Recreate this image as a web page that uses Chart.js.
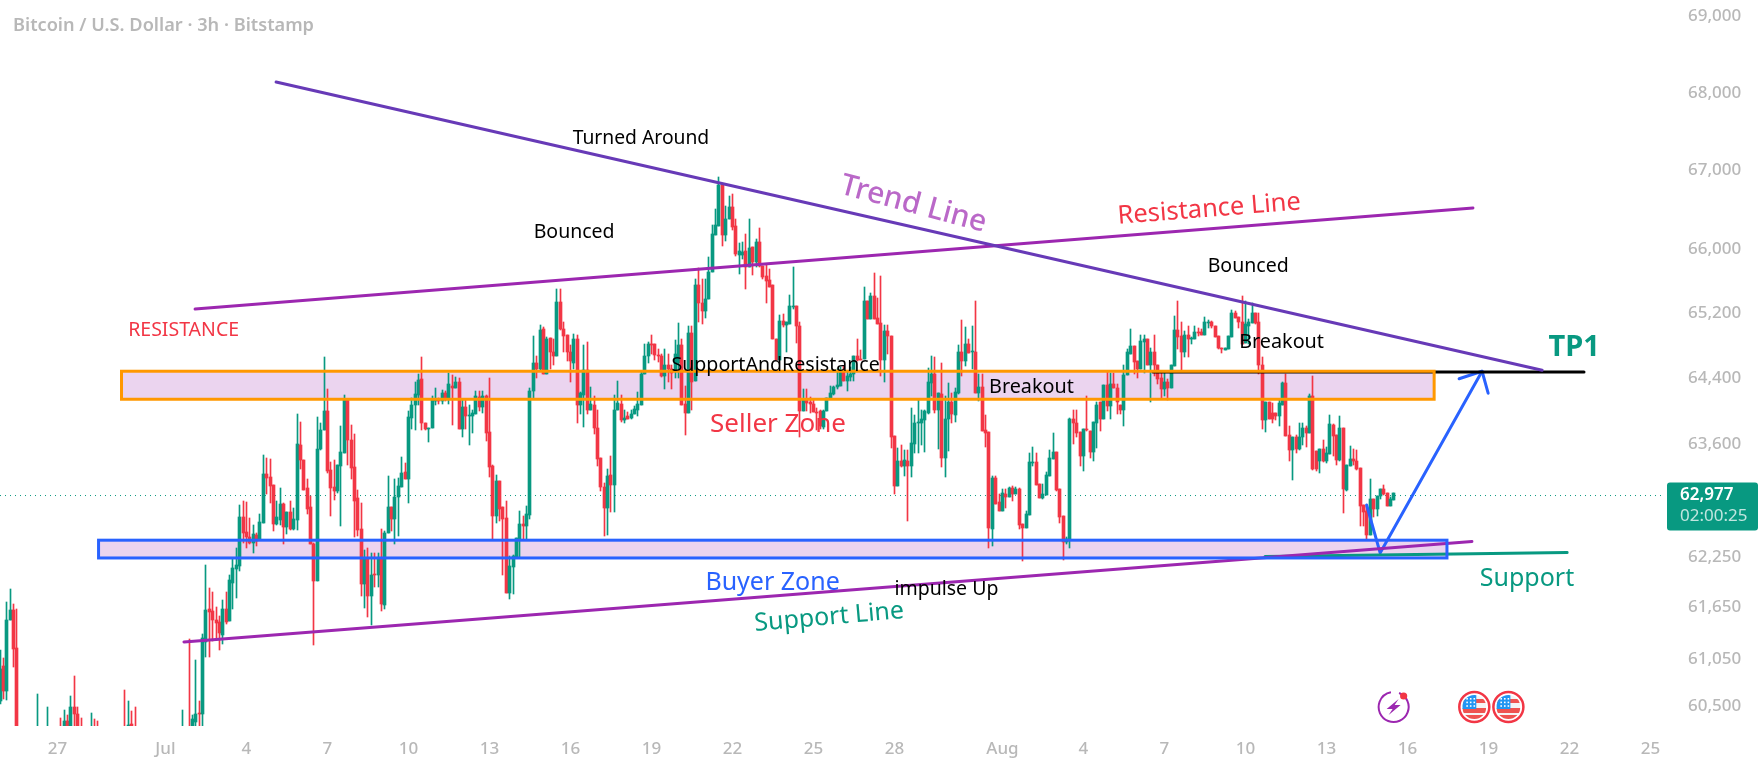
<!DOCTYPE html>
<html>
<head>
<meta charset="utf-8">
<title>Bitcoin / U.S. Dollar 3h</title>
<script src="https://cdn.jsdelivr.net/npm/chart.js@4/dist/chart.umd.min.js"></script>
<style>
  html, body { margin: 0; padding: 0; background: #fff; overflow: hidden; }
  canvas { display: block; }
</style>
</head>
<body>
<canvas id="btcChart" width="1763" height="768"></canvas>
<script>
// 3h candles
const opens = [
60530,60940,60650,61470,61590,61150,60100,59950,60000,59950,
59900,60050,60150,60000,60060,60150,60050,60120,60220,60120,
60310,60150,60470,60390,60150,60050,60100,60060,60240,60100,
60050,60000,60060,60000,59950,60000,60040,60150,60050,60270,
60100,60000,59950,60000,59960,59900,59950,60000,60060,60000,
59950,60020,59980,60000,60060,60150,60200,60000,60290,60400,
60380,61220,61600,61580,61480,61450,61300,61600,61460,61910,
62070,62110,62690,62510,62460,62380,62480,62420,62620,63210,
63170,63080,62610,62660,62850,62570,62750,62550,62660,63560,
63380,63040,62810,62370,61930,63510,63740,63970,63260,63050,
63010,63310,63460,64120,63620,63290,62920,62550,61900,62200,
61760,62010,62000,62200,61650,62500,62810,62670,62930,63050,
63230,63150,63890,64050,64170,64360,63830,63750,63760,64090,
64100,64090,64190,64120,64280,64250,64320,63750,64020,63910,
63910,63940,64140,64020,64150,63720,63310,62710,63120,62810,
62680,61790,62100,62200,62430,62610,62590,62720,64210,64560,
64490,64980,64420,64870,64700,64650,65310,64980,64910,64690,
64560,64850,64040,64170,64470,63990,64050,63760,63400,63050,
62800,63200,63080,63990,64060,63860,63910,63890,63930,63990,
64050,64430,64640,64790,64790,64660,64650,64400,64540,64490,
64460,64560,64780,64060,63950,64930,64340,65530,65300,65200,
65350,65690,66150,66270,66780,66150,66350,66500,66260,65900,
65900,65950,65750,66000,65810,66070,65760,65640,65590,65520,
64860,64600,65080,65030,65040,65250,65260,65010,63970,64100,
64080,64060,63960,63970,63780,63970,64120,64180,64260,64280,
64450,64340,64390,64430,64650,64600,64610,65330,65100,65390,
65110,65050,64600,64950,64890,63670,63060,63360,63310,63360,
63300,63570,63820,63820,63860,63950,64310,64420,63980,64180,
63400,63870,64080,63920,64190,64690,64580,64790,64690,64700,
64190,64270,63740,63720,62550,63160,62870,62770,62970,62930,
63040,62970,63030,62610,62560,62720,63340,63350,63090,62920,
62960,63190,63390,63470,63030,62700,62400,62420,63870,63830,
63720,63430,63750,63730,63470,63830,64080,63880,64290,64030,
64300,64250,64050,63990,64410,64670,64770,64580,64480,64820,
64860,64530,64700,64540,64370,64240,64320,64250,64520,64960,
64890,64690,64910,64860,64850,64940,64940,64900,65050,65060,
65010,64890,64740,64720,64730,64880,65180,65130,65060,64800,
65020,65050,65180,65060,64540,63860,64080,63950,63950,63910,
64050,64310,63680,63500,63660,63510,63660,63770,63700,64160,
63490,63370,63510,63360,63450,63800,63680,63380,63770,63020,
63300,63390,63370,63280,62840,62760,62480,62910,62790,62940,
63030,62980,62830,62900];
const highs = [
61130,61030,61690,61840,61660,61610,60150,60050,60100,60020,
60100,60610,60200,60100,60460,60200,60180,60230,60340,60430,
60370,60590,60820,60460,60340,60150,60180,60400,60330,60310,
60150,60100,60120,60090,60050,60100,60150,60660,60540,60420,
60460,60080,60050,60100,60050,60000,60040,60120,60130,60100,
60060,60110,60080,60140,60430,60240,61250,60370,61010,60540,
61310,62120,61850,61810,61630,61520,61710,61810,62010,62190,
62320,62840,62890,62870,62680,62600,62500,62730,63440,63400,
63390,63080,62890,63040,62860,62750,62890,62800,63930,63840,
63380,63150,62940,62380,63900,63830,64630,64240,63350,63380,
63320,63790,64170,64120,63800,63690,63020,62860,62300,62320,
62260,62260,62260,62550,62530,63180,62810,63150,63160,63410,
63340,63970,64130,64330,64430,64630,63830,63770,64160,64250,
64130,64230,64210,64440,64410,64390,64370,64110,64110,64050,
63980,64210,64210,64210,64170,64370,63320,63200,63120,62810,
62880,62230,62240,62440,62770,62700,62820,64250,64890,64650,
65030,65000,64880,64870,64850,65480,65480,65070,64910,64780,
64920,64910,64200,64780,64820,64260,64160,63990,63400,63100,
63270,63420,64170,64340,64170,63990,63960,63990,64030,64200,
64450,64790,64820,64910,64790,64730,64670,64730,64670,64540,
64840,65050,64860,64280,65010,65010,65600,65740,65600,65600,
65870,66280,66480,66890,66790,66520,66640,66670,66350,66050,
66060,66160,66350,66000,66100,66240,65760,65770,65730,65520,
64860,65150,65170,65060,65400,65750,65260,65060,64240,64240,
64140,64120,64010,63990,63980,64130,64280,64280,64490,64510,
64520,64450,64510,64650,64860,64720,65500,65330,65430,65670,
65360,65640,65030,65030,64890,63670,63520,63560,63500,63500,
64010,63920,64110,63990,63990,64500,64640,64630,64190,64560,
64160,64310,64190,64250,64780,65090,65000,64850,65020,65320,
64420,64420,63920,63720,63190,63190,62970,63030,63030,63050,
63060,63050,63040,62610,62770,63460,63530,63460,63090,63090,
63230,63500,63700,63470,63030,62700,62450,63890,63990,63990,
63720,63750,64160,63730,63840,64080,64080,64290,64460,64440,
64440,64300,64050,64530,64730,64980,64770,64580,64910,64910,
64860,64750,64900,64540,64440,64440,64360,64530,65140,65320,
65060,64950,65020,64880,65010,64990,64980,65130,65090,65080,
65010,64890,64750,64750,64890,65220,65200,65130,65390,65320,
65100,65300,65180,65180,64630,64080,64080,64070,63950,64120,
64320,64430,63790,63660,63680,63820,63820,63790,64180,64400,
63490,63510,63620,63540,63920,63810,63680,63910,63770,63320,
63550,63510,63500,63280,62840,62830,63150,62910,62950,63030,
63080,62980,62930,62980];
const lows = [
60500,60560,60550,61470,60930,60000,59900,59850,59900,59800,
59850,60000,59950,59900,60000,60000,60000,60050,60100,60080,
60100,60100,60250,60100,60020,59950,60000,60000,60080,60000,
59950,59900,59950,59900,59850,59900,59980,60000,60000,60050,
59950,59880,59850,59900,59850,59800,59850,59900,59950,59900,
59860,59920,59880,59920,60000,60050,59900,59950,60240,60230,
60240,61040,61040,61230,61240,61130,61200,61430,61460,61600,
61730,62050,62380,62330,62370,62260,62350,62420,62620,62970,
62860,62530,62600,62600,62370,62490,62540,62540,62540,63270,
63020,62730,62370,61180,61930,63500,63740,63220,62710,62900,
62980,62580,63460,63320,63150,62450,62470,61760,61620,61510,
61420,61860,61860,61580,61610,62500,62530,62370,62470,63050,
63150,62860,63750,63740,64050,63740,63740,63590,63760,64050,
64060,64060,64090,64060,63800,64250,63750,63650,63750,63560,
63710,63930,63970,63950,63610,63170,62420,62620,62650,62010,
61790,61720,61780,62200,62200,62420,62420,62670,64130,64370,
64470,64420,64420,64480,64530,64650,64970,64690,64580,64320,
64480,63820,63940,63780,63940,63990,63690,63310,63000,62470,
62480,62750,62750,63980,63840,63830,63880,63880,63930,63910,
64050,64430,64560,64670,64590,64570,64390,64240,64320,64240,
64370,64370,64040,63680,63950,63990,64340,65070,65040,65110,
65350,65690,66150,66270,66020,66080,66350,66220,65890,65660,
65850,65480,65750,65650,65750,65750,65600,65300,65500,64850,
64600,64600,65000,64690,65040,65230,64800,63660,63970,63970,
63950,63960,63740,63750,63750,63970,64120,64170,64240,64280,
64340,64220,64340,64340,64580,64590,64610,65100,65100,65100,
65040,64400,64330,64670,63520,62970,63060,63290,63190,62640,
63170,63460,63460,63560,63480,63930,64160,63950,63510,63290,
63170,63490,63820,63840,64180,64400,64520,64680,64480,64190,
64090,63730,63530,62330,62350,62850,62770,62770,62800,62930,
62880,62970,62550,62170,62560,62720,63310,63080,62920,62910,
62960,63180,63390,63010,62620,62180,62370,62330,63570,63660,
63300,63240,63730,63400,63360,63520,63730,63880,63970,63880,
64250,63940,63930,63790,64410,64670,64420,64370,64480,64440,
64530,64080,64400,64300,64130,64150,64100,64250,64520,64730,
64460,64630,64630,64790,64850,64890,64900,64900,64990,64990,
64880,64730,64680,64720,64730,64880,65110,64990,64790,64800,
64790,65050,65040,64430,63750,63720,63880,63820,63860,63790,
64050,63670,63360,63140,63460,63500,63560,63540,63700,63260,
63250,63220,63350,63340,63450,63430,63320,63370,62740,63010,
63300,63320,63260,62590,62590,62420,62480,62690,62710,62910,
62960,62830,62830,62900];
const closes = [
60910,60650,61470,61590,61140,60100,59950,60000,59950,59900,
60050,60150,60000,60060,60150,60050,60120,60220,60120,60310,
60150,60470,60380,60150,60050,60100,60060,60240,60100,60050,
60000,60060,60000,59950,60000,60040,60100,60050,60260,60100,
60000,59950,60000,59960,59900,59950,60000,60060,60000,59950,
60020,59980,60000,60060,60150,60100,60000,60330,60390,60380,
61260,61590,61570,61470,61440,61320,61600,61450,61940,62090,
62120,62690,62500,62450,62380,62490,62410,62630,63210,63160,
63070,62610,62690,62850,62570,62750,62550,62670,63570,63380,
63020,62790,62370,61930,63510,63740,63970,63250,63040,63010,
63320,63480,64120,63620,63280,62880,62540,61900,62200,61760,
62010,62000,62200,61660,62500,62810,62670,62930,63060,63220,
63150,63900,64050,64180,64350,63830,63750,63770,64100,64100,
64090,64190,64120,64300,64250,64320,63750,64020,63910,63920,
63950,64150,64020,64150,63710,63290,62710,63120,62790,62670,
61790,62110,62230,62440,62610,62590,62730,64220,64560,64490,
64960,64420,64860,64690,64650,65310,64980,64890,64690,64580,
64850,64040,64190,64470,63990,64060,63760,63390,63050,62800,
63180,63080,63990,64070,63860,63890,63880,63930,64000,64060,
64430,64650,64790,64780,64660,64640,64400,64540,64490,64440,
64670,64780,64040,63950,64930,64330,65530,65300,65200,65350,
65690,66160,66280,66780,66150,66350,66500,66250,65910,65950,
65940,65750,65990,65810,66060,65760,65630,65580,65500,64850,
64600,65080,65030,65060,65260,65260,65020,63970,64100,64070,
64060,63960,63950,63790,63970,64130,64190,64270,64290,64450,
64340,64400,64430,64650,64590,64590,65330,65100,65390,65100,
65040,64600,64950,64890,63660,63060,63360,63310,63380,63300,
63580,63820,63840,63870,63970,64320,64420,63980,64190,63400,
63880,64080,63930,64200,64690,64580,64790,64680,64700,64190,
64270,63730,63710,62560,63160,62850,62770,62980,62930,63040,
62970,63030,62600,62560,62730,63350,63350,63080,62920,62970,
63200,63400,63470,63020,62690,62400,62430,63870,63820,63700,
63430,63750,63740,63470,63840,64050,63880,64290,64030,64300,
64250,64080,63990,64410,64700,64770,64570,64480,64830,64860,
64530,64700,64530,64360,64240,64320,64250,64530,64960,64880,
64690,64910,64850,64860,64940,64930,64910,65060,65060,65010,
64880,64740,64730,64750,64890,65180,65120,65060,64790,65040,
65060,65180,65050,64530,63860,64080,63880,63880,63910,64070,
64310,63670,63500,63660,63510,63660,63770,63700,64160,63270,
63270,63510,63360,63460,63810,63670,63380,63770,63030,63320,
63390,63360,63270,62830,62750,62480,62910,62790,62950,63030,
62970,62830,62910,62977];

// axis labels
const priceTicks = [69000, 68000, 67000, 66000, 65200, 64400, 63600, 62250, 61650, 61050, 60500];
const dayTicks = [17, 49, 73, 97, 121, 145, 169, 193, 217, 241, 265, 297, 321, 345, 369, 393, 417, 441, 465, 489];
const dayLabels = ['27', 'Jul', '4', '7', '10', '13', '16', '19', '22', '25', '28', 'Aug', '4', '7', '10', '13', '16', '19', '22', '25'];
const lastPrice = 62977;
const lastPriceLevel = 62950; // where the dotted line sits on this scale
const countdown = '02:00:25';

const GREEN = '#089981';
const RED = '#f23645';
const BLUE = '#2962ff';
const ORANGE = '#ff9800';
const FONT = '"Noto Sans", sans-serif';

// drawn lines, in candle number / price
const trendLine = [{x: 81.8, y: 68108}, {x: 456.9, y: 64470}];
const resistanceLine = [{x: 57.8, y: 65226}, {x: 436.4, y: 66494}];
const supportLine = [{x: 54.5, y: 61219}, {x: 436.1, y: 62402}];
const tpLine = [{x: 341.6, y: 64450}, {x: 469.3, y: 64450}];
const greenSupport = [{x: 374.8, y: 62222}, {x: 464.3, y: 62270}];
const arrowPath = [{x: 404.9, y: 62837}, {x: 408.9, y: 62266}, {x: 439.1, y: 64458}];
const arrowHead = [{x: 432.3, y: 64366}, {x: 439.1, y: 64458}, {x: 440.9, y: 64189}];
const priceLine = [{x: 0, y: lastPriceLevel}, {x: 493.3, y: lastPriceLevel}];

const zones = [
  {left: 36, right: 424.9, top: 64458, bottom: 64115, color: ORANGE},
  {left: 29.2, right: 428.7, top: 62417, bottom: 62206, color: BLUE}
];

const notes = [
  {text: 'Turned Around', x: 189.9, y: 67414, size: 19.3, color: '#000'},
  {text: 'Bounced', x: 170.1, y: 66217, size: 19.5, color: '#000'},
  {text: 'Bounced', x: 369.8, y: 65789, size: 19.5, color: '#000'},
  {text: 'RESISTANCE', x: 54.4, y: 64992, size: 19.5, color: RED},
  {text: 'SupportAndResistance', x: 229.8, y: 64560, size: 19.6, color: '#000'},
  {text: 'Seller Zone', x: 230.5, y: 63839, size: 26, color: RED},
  {text: 'Breakout', x: 305.6, y: 64290, size: 19.8, color: '#000'},
  {text: 'Breakout', x: 379.7, y: 64843, size: 19.8, color: '#000'},
  {text: 'Buyer Zone', x: 228.9, y: 61946, size: 25, color: BLUE},
  {text: 'impulse Up', x: 280.4, y: 61863, size: 19.5, color: '#000'},
  {text: 'Support', x: 452.4, y: 61994, size: 25, color: GREEN},
  {text: 'TP1', x: 466.4, y: 64781, size: 29, color: GREEN, weight: 'bold'},
  {text: 'Trend Line', x: 270.8, y: 66570, size: 30, color: '#ba68c8', angle: 15, weight: '500'},
  {text: 'Resistance Line', x: 358.2, y: 66507, size: 25.5, color: RED, angle: -4.5},
  {text: 'Support Line', x: 245.6, y: 61535, size: 25, color: GREEN, angle: -5}
];

const candleColors = opens.map((o, i) => (closes[i] >= o ? GREEN : RED));
const wicks = lows.map((l, i) => ({x: i, y: [l, highs[i]]}));
const bodies = opens.map((o, i) => ({x: i, y: [Math.min(o, closes[i]), Math.max(o, closes[i])]}));

function lineSet(points, color, width, order) {
  return {type: 'line', data: points, borderColor: color, borderWidth: width, pointRadius: 0,
    tension: 0, order: order === undefined ? 0 : order, borderCapStyle: 'round', borderJoinStyle: 'round'};
}

function drawFlag(ctx, cx, cy) {
  ctx.save();
  ctx.strokeStyle = RED;
  ctx.lineWidth = 2.5;
  ctx.fillStyle = '#fff';
  ctx.beginPath();
  ctx.arc(cx, cy, 15, 0, Math.PI * 2);
  ctx.fill();
  ctx.stroke();
  ctx.beginPath();
  ctx.arc(cx, cy, 12, 0, Math.PI * 2);
  ctx.clip();
  ctx.fillStyle = '#f4f4f4';
  ctx.fillRect(cx - 12, cy - 12, 24, 24);
  ctx.fillStyle = '#ef5350';
  ctx.fillRect(cx - 12, cy - 8, 24, 4);
  ctx.fillRect(cx - 12, cy + 1, 24, 5);
  ctx.fillRect(cx - 12, cy + 8, 24, 4);
  ctx.fillStyle = '#2196f3';
  ctx.fillRect(cx - 12, cy - 12, 14, 14);
  ctx.fillStyle = '#fff';
  for (let r = 0; r < 3; r++) {
    for (let c = 0; c < 3; c++) {
      ctx.fillRect(cx - 8 + c * 3.6, cy - 9 + r * 3.6, 1.6, 1.6);
    }
  }
  ctx.restore();
}

function drawBolt(ctx, cx, cy) {
  ctx.save();
  ctx.strokeStyle = '#9c27b0';
  ctx.lineWidth = 2;
  ctx.beginPath();
  ctx.arc(cx, cy, 15, -1.2, Math.PI * 2 - 1.75);
  ctx.stroke();
  ctx.fillStyle = '#9c27b0';
  ctx.beginPath();
  ctx.moveTo(cx + 5, cy - 8);
  ctx.lineTo(cx - 7, cy + 2);
  ctx.lineTo(cx - 1, cy + 2);
  ctx.lineTo(cx - 5, cy + 8);
  ctx.lineTo(cx + 7, cy - 2);
  ctx.lineTo(cx + 1, cy - 2);
  ctx.closePath();
  ctx.fill();
  ctx.fillStyle = RED;
  ctx.beginPath();
  ctx.arc(cx + 10, cy - 11, 3.6, 0, Math.PI * 2);
  ctx.fill();
  ctx.restore();
}

const drawings = {
  id: 'drawings',
  beforeDatasetsDraw(chart) {
    const {ctx, scales} = chart;
    // snap the candles to whole pixels so they stay sharp
    chart.getSortedVisibleDatasetMetas().forEach(meta => {
      if (meta.type !== 'bar') return;
      meta.data.forEach(el => {
        el.x = Math.floor(el.x) + 0.5;
        el.y = Math.round(el.y);
        el.base = Math.round(el.base);
      });
    });
    ctx.save();
    ctx.fillStyle = 'rgba(156, 39, 176, 0.2)';
    zones.forEach(z => {
      const x1 = scales.x.getPixelForValue(z.left);
      const x2 = scales.x.getPixelForValue(z.right);
      const y1 = scales.y.getPixelForValue(z.top);
      const y2 = scales.y.getPixelForValue(z.bottom);
      ctx.fillRect(x1, y1, x2 - x1, y2 - y1);
    });
    ctx.restore();
  },
  afterDatasetsDraw(chart) {
    const {ctx, scales} = chart;
    ctx.save();
    ctx.lineWidth = 3;
    zones.forEach(z => {
      const x1 = scales.x.getPixelForValue(z.left);
      const x2 = scales.x.getPixelForValue(z.right);
      const y1 = scales.y.getPixelForValue(z.top);
      const y2 = scales.y.getPixelForValue(z.bottom);
      ctx.strokeStyle = z.color;
      ctx.strokeRect(x1, y1, x2 - x1, y2 - y1);
    });
    ctx.restore();

    // text drawn on the chart
    ctx.save();
    ctx.textAlign = 'center';
    ctx.textBaseline = 'middle';
    notes.forEach(n => {
      ctx.save();
      ctx.translate(scales.x.getPixelForValue(n.x), scales.y.getPixelForValue(n.y));
      ctx.rotate((n.angle || 0) * Math.PI / 180);
      ctx.font = (n.weight || 'normal') + ' ' + n.size + 'px ' + FONT;
      ctx.fillStyle = n.color;
      ctx.fillText(n.text, 0, 2.5);
      ctx.restore();
    });
    ctx.restore();

    // header
    ctx.save();
    ctx.textBaseline = 'middle';
    ctx.font = '600 18.2px ' + FONT;
    ctx.fillStyle = '#b8b8b8';
    ctx.fillText('Bitcoin / U.S. Dollar · 3h · Bitstamp', 13, 25.5);
    ctx.restore();

    // last price tag
    const tagY = scales.y.getPixelForValue(lastPriceLevel);
    ctx.save();
    ctx.fillStyle = GREEN;
    ctx.beginPath();
    ctx.roundRect(1667, tagY - 13, 91, 48, 3);
    ctx.fill();
    ctx.textBaseline = 'middle';
    ctx.font = '600 17px ' + FONT;
    ctx.fillStyle = '#fff';
    ctx.fillText(lastPrice.toLocaleString('en-US'), 1680, tagY);
    ctx.font = '17px ' + FONT;
    ctx.fillStyle = 'rgba(255, 255, 255, 0.75)';
    ctx.fillText(countdown, 1680, tagY + 21);
    ctx.restore();

    drawBolt(ctx, scales.x.getPixelForValue(412.9), 707);
    drawFlag(ctx, scales.x.getPixelForValue(436.8), 707);
    drawFlag(ctx, scales.x.getPixelForValue(446.9), 707);
  }
};

new Chart(document.getElementById('btcChart').getContext('2d'), {
  data: {
    datasets: [
      lineSet(trendLine, '#673ab7', 3),
      lineSet(resistanceLine, '#9c27b0', 3),
      lineSet(supportLine, '#9c27b0', 3),
      lineSet(tpLine, '#000000', 3),
      lineSet(greenSupport, GREEN, 3),
      lineSet(arrowPath, BLUE, 3),
      lineSet(arrowHead, BLUE, 3),
      Object.assign(lineSet(priceLine, GREEN, 1, 5), {borderDash: [1, 4], borderCapStyle: 'butt'}),
      {type: 'bar', data: wicks, backgroundColor: candleColors, barThickness: 1, grouped: false, order: 2},
      {type: 'bar', data: bodies, backgroundColor: candleColors, barThickness: 3, minBarLength: 1, grouped: false, order: 1}
    ]
  },
  options: {
    responsive: false,
    animation: false,
    events: [],
    layout: {padding: 0},
    plugins: {legend: {display: false}, tooltip: {enabled: false}, title: {display: false}},
    scales: {
      x: {
        type: 'linear',
        min: 0,
        max: 493.3,
        offset: false,
        grid: {display: false},
        border: {display: false},
        afterBuildTicks: axis => { axis.ticks = dayTicks.map(v => ({value: v})); },
        afterFit: axis => { axis.height = 42; axis.paddingLeft = 0; axis.paddingRight = 0; },
        ticks: {
          autoSkip: false,
          maxRotation: 0,
          padding: 5,
          color: '#b8b8b8',
          font: {family: FONT, size: 17, weight: '500'},
          callback: v => dayLabels[dayTicks.indexOf(v)]
        }
      },
      y: {
        type: 'logarithmic',
        position: 'right',
        min: 60247,
        max: 69180,
        grid: {display: false},
        border: {display: false},
        afterBuildTicks: axis => { axis.ticks = priceTicks.map(v => ({value: v})); },
        afterFit: axis => { axis.width = 98; axis.paddingTop = 0; axis.paddingBottom = 0; },
        ticks: {
          autoSkip: false,
          padding: 15,
          labelOffset: 2.5,
          color: '#b8b8b8',
          font: {family: FONT, size: 17, weight: '500'},
          callback: v => Number(v).toLocaleString('en-US')
        }
      }
    }
  },
  plugins: [drawings]
});
</script>
</body>
</html>
